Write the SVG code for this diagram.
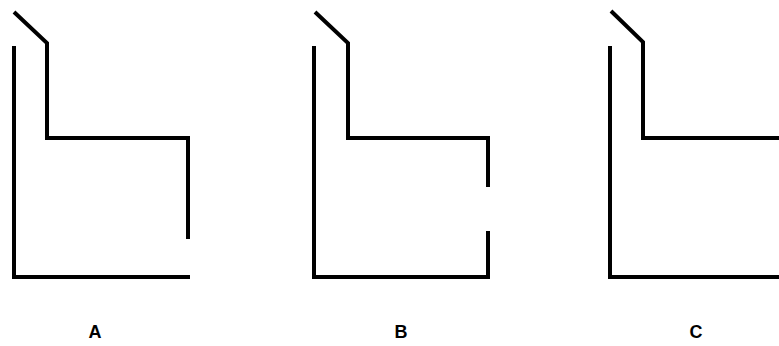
<svg xmlns="http://www.w3.org/2000/svg" width="779" height="346" viewBox="0 0 779 346">
<style>
.ln{fill:none;stroke:#000;stroke-width:4;stroke-linecap:butt;stroke-linejoin:miter}
.lb{font-family:"Liberation Sans","DejaVu Sans",sans-serif;font-weight:bold;font-size:18px;fill:#000;text-anchor:middle}
</style>
<rect width="779" height="346" fill="#fff"/>
<g id="figA">
<polyline class="ln" points="14,12 47,43 47,138 188,138 188,239"/>
<polyline class="ln" points="14,46 14,277 190,277"/>
<text class="lb" x="95" y="338">A</text>
</g>
<g id="figB">
<polyline class="ln" points="315,12 348,43 348,138 488,138 488,187"/>
<polyline class="ln" points="314,46 314,277 488,277 488,231"/>
<text class="lb" x="401" y="338">B</text>
</g>
<g id="figC">
<polyline class="ln" points="611,11 643,42 643,138 779,138"/>
<polyline class="ln" points="610,46 610,277 779,277"/>
<text class="lb" x="696" y="338">C</text>
</g>
</svg>
